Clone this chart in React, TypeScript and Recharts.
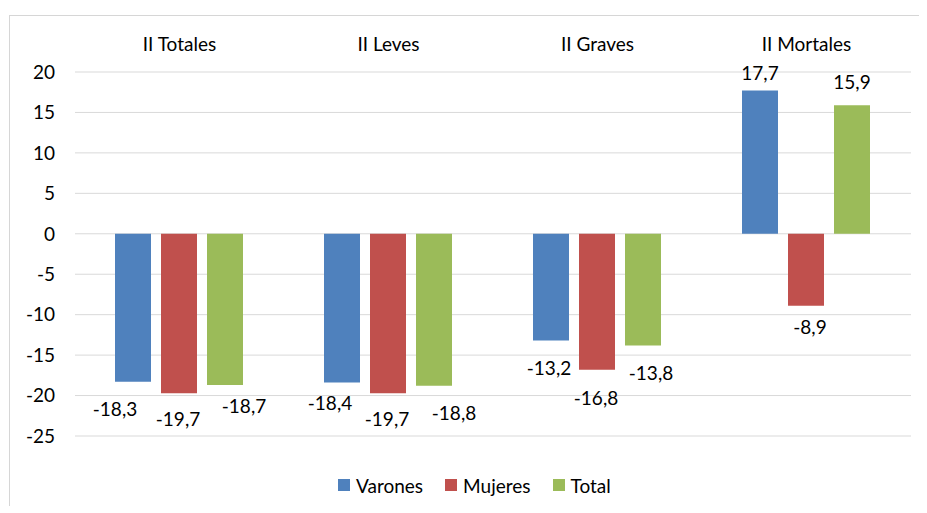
import React from 'react';
import { BarChart, Bar, XAxis, YAxis, CartesianGrid, Legend, LabelList } from 'recharts';

const categories = ['II Totales', 'II Leves', 'II Graves', 'II Mortales'];
const varones = [-18.3, -18.4, -13.2, 17.7];
const mujeres = [-19.7, -19.7, -16.8, -8.9];
const total = [-18.7, -18.8, -13.8, 15.9];
const yTicks = [20, 15, 10, 5, 0, -5, -10, -15, -20, -25];

const data = categories.map((c, i) => ({
  name: c,
  Varones: varones[i],
  Mujeres: mujeres[i],
  Total: total[i],
}));

const COLORS: Record<string, string> = {
  Varones: '#4F81BD',
  Mujeres: '#C0504D',
  Total: '#9BBB59',
};

// label nudges relative to bar end (dx, dy), mimicking the manually placed labels
const labelNudge: Record<string, [number, number][]> = {
  Varones: [[-18, 27], [-12, 20], [-2, 27], [0, -18]],
  Mujeres: [[-1, 25], [-1, 25], [-1, 28], [4, 21]],
  Total: [[19, 20], [20, 27], [8, 27], [0, -24]],
};

const FONT = 'Lato, "Open Sans", "Liberation Sans", sans-serif';

const fmt = (v: number) => v.toFixed(1).replace('.', ',');

const makeLabel = (key: string) => (props: any) => {
  const { x, y, width, height, value, index } = props;
  const v = Number(value);
  const top = Math.min(y, y + height);
  const bottom = Math.max(y, y + height);
  const end = v >= 0 ? top : bottom;
  const [dx, dy] = labelNudge[key][index] || [0, v >= 0 ? -20 : 25];
  return (
    <text
      x={x + width / 2 + dx}
      y={end + dy}
      textAnchor="middle"
      dominantBaseline="central"
      fill="#000"
      fontSize={19}
      fontFamily={FONT}
    >
      {fmt(v)}
    </text>
  );
};

const LegendContent = () => (
  <div style={{ display: 'flex', alignItems: 'center', fontFamily: FONT, fontSize: 19, color: '#000', height: 24 }}>
    {['Varones', 'Mujeres', 'Total'].map((k, i) => (
      <div key={k} style={{ display: 'flex', alignItems: 'center', marginRight: i < 2 ? 22 : 0 }}>
        <span style={{ display: 'inline-block', width: 12, height: 12, background: COLORS[k], marginRight: 6 }} />
        <span>{k}</span>
      </div>
    ))}
  </div>
);

export default function App() {
  return (
    <div style={{ paddingTop: 7, paddingLeft: 1, fontFamily: FONT }}>
      <div style={{ borderTop: '1px solid #d6d6d6', borderLeft: '1px solid #d6d6d6', width: 917, height: 490, position: 'relative' }}>
        <BarChart
          width={917}
          height={490}
          data={data}
          margin={{ top: 0, right: 16, left: 0, bottom: 70 }}
          barCategoryGap={40}
          barGap={10}
        >
          <CartesianGrid horizontal vertical={false} stroke="#d9d9d9" strokeWidth={1} />
          <XAxis
            dataKey="name"
            orientation="top"
            height={56}
            axisLine={false}
            tickLine={false}
            tickSize={0}
            tickMargin={21}
            tick={{ fill: '#000', fontSize: 19, fontFamily: FONT }}
            interval={0}
          />
          <YAxis
            width={65}
            domain={[-25, 20]}
            ticks={yTicks}
            axisLine={false}
            tickLine={false}
            tickSize={0}
            tickMargin={20}
            tick={{ fill: '#000', fontSize: 19, fontFamily: FONT }}
            interval={0}
          />
          <Legend
            layout="horizontal"
            verticalAlign="middle"
            align="center"
            content={<LegendContent />}
            wrapperStyle={{ top: 457, left: 328, width: 'auto' }}
          />
          {['Varones', 'Mujeres', 'Total'].map((k) => (
            <Bar key={k} dataKey={k} fill={COLORS[k]} isAnimationActive={false}>
              <LabelList dataKey={k} content={makeLabel(k)} />
            </Bar>
          ))}
        </BarChart>
      </div>
    </div>
  );
}
